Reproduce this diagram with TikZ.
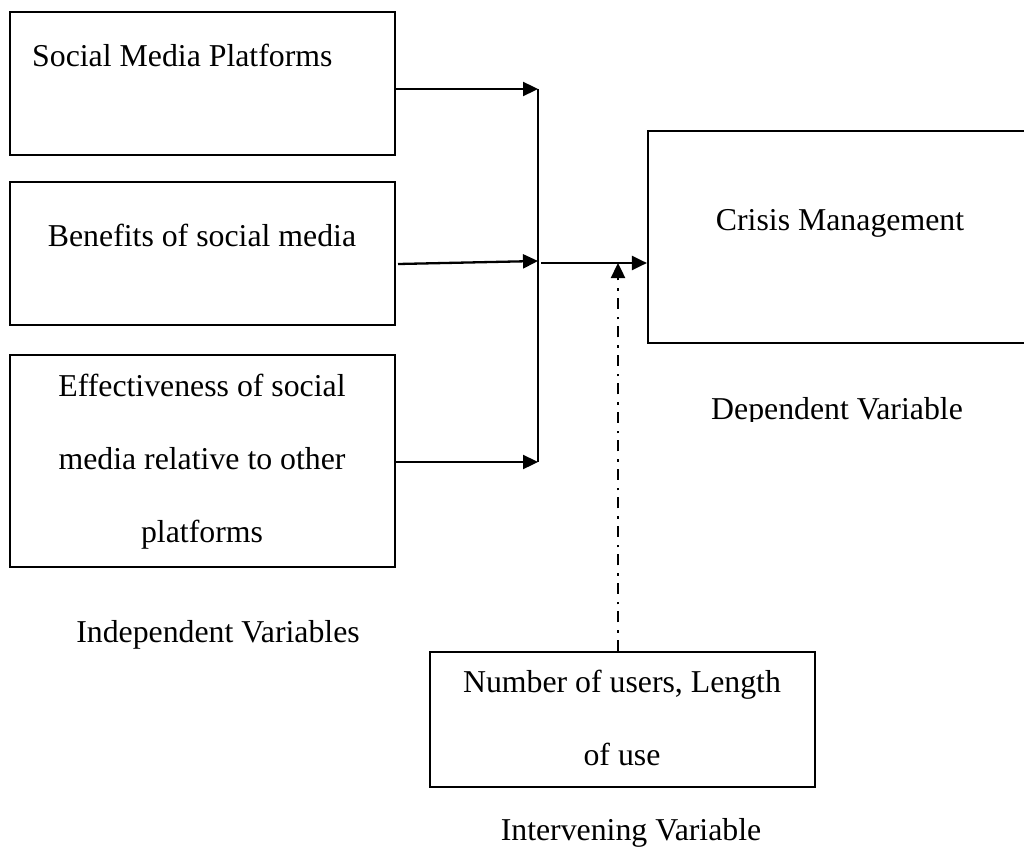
\documentclass[tikz,border=0pt]{standalone}
\usepackage{fontspec}
\setmainfont{Liberation Serif}
\usetikzlibrary{arrows.meta}
\tikzset{
  box/.style={draw, line width=2.2pt, rectangle, inner sep=0pt},
  txt/.style={inner sep=0pt, anchor=base, font=\fontsize{31.8}{38}\selectfont},
  txtl/.style={txt, anchor=base west},
  arr/.style={line width=2.3pt, -{Triangle[length=15pt,width=14pt]}},
  thin/.style={line width=1.3pt},
  dashdot/.style={line width=2.4pt, dash pattern=on 11pt off 7pt on 2.5pt off 8pt, -{Triangle[length=15pt,width=14pt]}}
}
\begin{document}
\begin{tikzpicture}[x=1pt,y=-1pt]
\useasboundingbox (0,0) rectangle (1024,848);
\clip (0,0) rectangle (1024,848);
\fill[white] (0,0) rectangle (1024,848);
% boxes
\node[box, minimum width=385pt, minimum height=143pt] (box1) at (202.5,83.5) {};
\node[box, minimum width=385pt, minimum height=143pt] (box2) at (202.5,253.5) {};
\node[box, minimum width=385pt, minimum height=212pt] (box3) at (202.5,461) {};
\node[box, minimum width=392pt, minimum height=212pt] (box4) at (844,237) {};
\node[box, minimum width=385pt, minimum height=135pt] (box5) at (622.5,719.5) {};
% texts
\node[txtl] (t1) at (32,67) {Social Media Platforms};
\node[txt] (t2) at (202,246) {Benefits of social media};
\node[txt] (t3a) at (202,396) {Effectiveness of social};
\node[txt] (t3b) at (202,469) {media relative to other};
\node[txt] (t3c) at (202,542) {platforms};
\node[txt] (t4) at (840,230) {Crisis Management};
\node[txt] (t5a) at (622,692) {Number of users, Length};
\node[txt] (t5b) at (622,765) {of use};
\node[txt] (lindep) at (218,642) {Independent Variables};
\node[txt] (linter) at (631,840) {Intervening Variable};
\begin{scope}
\clip (600,380) rectangle (1024,421);
\node[txt] (ldep) at (837,419) {Dependent Variable};
\end{scope}
% connector points
\coordinate (J1) at (538,89);
\coordinate (J2) at (538,261);
\coordinate (J3) at (538,462);
\coordinate (S2) at (398,264);
\coordinate (S4) at (541,263);
\coordinate (T) at (618,263);
% connectors
\draw[thin] (J1) -- (J3);
\draw[arr] (box1.east |- J1) -- (J1);
\draw[arr] (S2) -- (J2);
\draw[arr] (box3.east |- J3) -- (J3);
\draw[arr] (S4) -- (box4.west |- S4);
\draw[dashdot] (box5.north -| T) -- (T);
\end{tikzpicture}
\end{document}
